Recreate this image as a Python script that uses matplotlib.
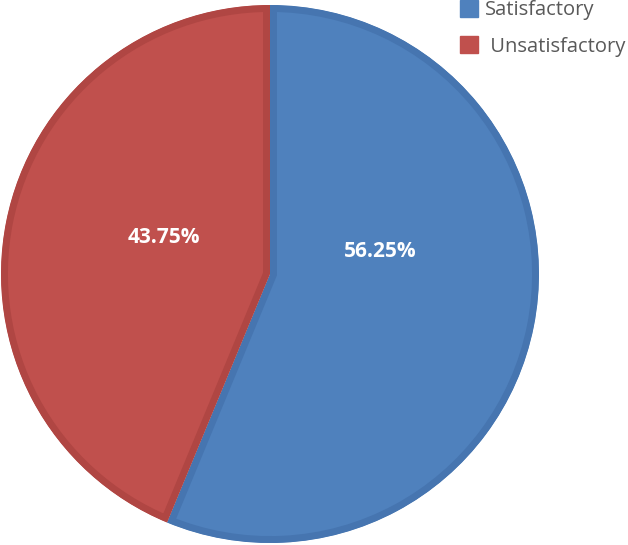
import matplotlib.pyplot as plt
import matplotlib.patches as mpatches

labels = ['Satisfactory', ' Unsatisfactory']
values = [56.25, 43.75]
colors = ['#4F81BD', '#C0504D']
edge_colors = ['#4675B0', '#B04643']

fig = plt.figure(figsize=(6.28, 5.45), dpi=100)
ax = fig.add_axes([1 / 628, 2 / 545, 538 / 628, 538 / 545])

wedges, _ = ax.pie(values, colors=colors, startangle=90, counterclock=False,
                   wedgeprops=dict(linewidth=0))
for w, ec in zip(wedges, edge_colors):
    # darker bevel drawn inside each slice only
    w.set_edgecolor(ec)
    w.set_linewidth(10)
    w.set_clip_path(w)
    w.set_clip_on(True)

ax.set_aspect('auto')
ax.set_xlim(-1, 1)
ax.set_ylim(-1, 1)
ax.axis('off')

label_pos = [(0.411, 0.082), (-0.394, 0.134)]
for v, (x, y) in zip(values, label_pos):
    ax.text(x, y, '{:.2f}%'.format(v), color='white', fontsize=15,
            fontweight='bold', ha='center', va='center', family='Open Sans')

handles = [mpatches.Patch(color=c, label=l) for c, l in zip(colors, labels)]
leg = fig.legend(handles=handles, loc='upper left', bbox_to_anchor=(460 / 628, 1.0),
                 frameon=False, handlelength=0.9, handleheight=0.9,
                 handletextpad=0.32, labelspacing=0.8, borderaxespad=0,
                 borderpad=0.0, prop={'family': 'Open Sans', 'size': 14.5})
for t in leg.get_texts():
    t.set_color('#595959')

fig.savefig('out.png', dpi=100)
